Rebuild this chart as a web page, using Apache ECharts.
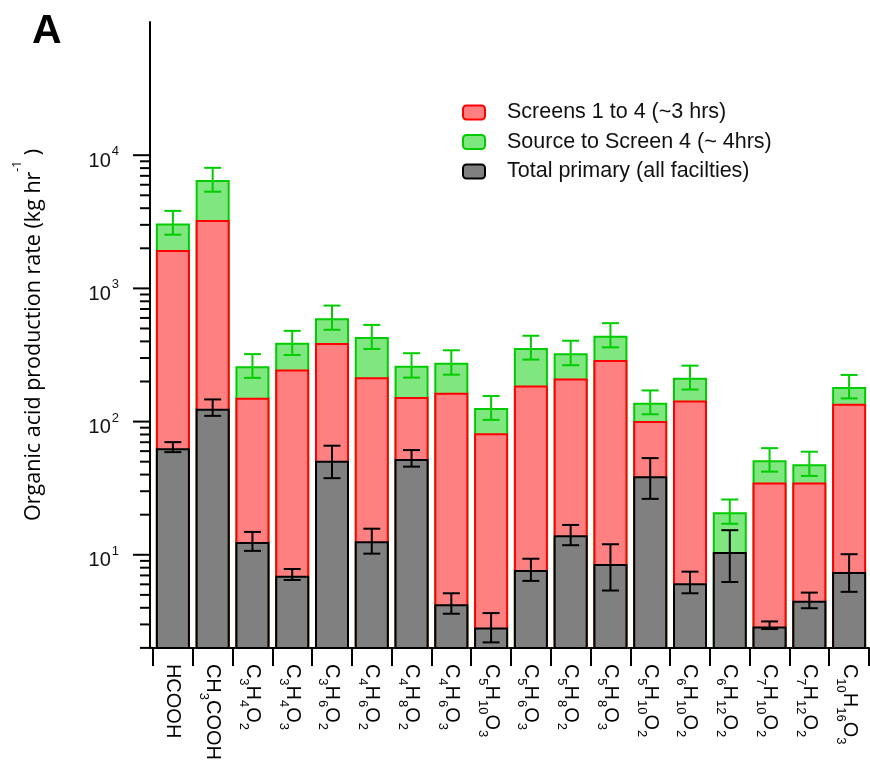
<!DOCTYPE html>
<html><head><meta charset="utf-8">
<script src="https://cdn.jsdelivr.net/npm/echarts@6/dist/echarts.min.js"></script>
<style>html,body{margin:0;padding:0;background:#fff}#c{width:870px;height:763px}</style>
</head><body><div id="c"></div>
<script>
// ---- data ----
const categories = ['HCOOH','CH3COOH','C3H4O2','C3H4O3','C3H6O2','C4H6O2','C4H8O2','C4H6O3','C5H10O3','C5H6O3','C5H8O2','C5H8O3','C5H10O2','C6H10O2','C6H12O2','C7H10O2','C7H12O2','C10H16O3'];
const seriesNames = ['Screens 1 to 4 (~3 hrs)', 'Source to Screen 4 (~ 4hrs)', 'Total primary (all facilties)'];
const sourceTo4 = [3070, 6500, 260, 390, 597, 431, 263, 277, 126.5, 357, 326, 441, 138.6, 213, 20.9, 51.2, 47.8, 181.5];
const sourceTo4Low = [2530, 5320, 213, 316, 489, 351, 214, 225, 103, 292, 265, 361, 113.5, 174, 17.1, 42.1, 39.1, 149.3];
const sourceTo4High = [3820, 8040, 321, 480, 743, 532, 326, 343, 155.5, 441, 404.5, 548, 171.3, 263, 26.0, 63.2, 59.4, 224];
const screens1to4 = [1945, 3258, 151, 245.6, 389, 215.5, 153, 164.6, 81.8, 186.6, 210.5, 290, 101.2, 144.2, null, 34.9, 34.9, 136.3];
const primary = [63.2, 125, 12.5, 6.97, 50.9, 12.65, 52.3, 4.26, 2.85, 7.69, 14.0, 8.52, 38.9, 6.11, 10.5, 2.90, 4.51, 7.43];
const primaryLow = [59.0, 110.4, 10.7, 6.47, 37.6, 10.2, 45.9, 3.61, 2.2, 6.37, 11.8, 5.39, 26.3, 5.14, 6.25, 2.77, 3.97, 5.27];
const primaryHigh = [70.1, 146.7, 14.85, 7.82, 65.9, 15.7, 61.1, 5.14, 3.65, 9.34, 16.75, 12.0, 53.2, 7.47, 15.3, 3.16, 5.2, 10.1];
const majorTicks = [10, 100, 1000, 10000];
const minorTicks = [2,3,4,5,6,7,8,9, 20,30,40,50,60,70,80,90, 200,300,400,500,600,700,800,900, 2000,3000,4000,5000,6000,7000,8000,9000];
const yMin = 2, yMax = 100000;

// ---- chart ----
const chart = echarts.init(document.getElementById('c'), null, {renderer: 'canvas'});
const AX_OFF = 3;
function errData(lo, hi) { return lo.map((l, i) => [i, l, hi[i]]); }
function errRender(color) {
  return function (params, api) {
    const i = api.value(0);
    const lo = api.coord([i, api.value(1)]);
    const hi = api.coord([i, api.value(2)]);
    const w = 8.5;
    const st = {stroke: color, lineWidth: 2, fill: null};
    return {type: 'group', children: [
      {type: 'line', shape: {x1: lo[0], y1: lo[1], x2: hi[0], y2: hi[1]}, style: st},
      {type: 'line', shape: {x1: lo[0]-w, y1: lo[1], x2: lo[0]+w, y2: lo[1]}, style: st},
      {type: 'line', shape: {x1: hi[0]-w, y1: hi[1], x2: hi[0]+w, y2: hi[1]}, style: st}
    ]};
  };
}
const tickData = majorTicks.map(v => [0, v, 17]).concat(minorTicks.map(v => [0, v, 10]));

const option = {
  animation: false,
  backgroundColor: '#fff',
  title: {text: 'A', left: 27, top: 6, textStyle: {fontSize: 41, fontWeight: 'bold', fontFamily: 'Liberation Sans', color: '#000'}},
  legend: {
    data: seriesNames, orient: 'vertical', left: 462, top: 101.5, padding: 0,
    itemWidth: 22, itemHeight: 14, itemGap: 7.5, icon: 'roundRect',
    itemStyle: {borderWidth: 2},
    textStyle: {fontSize: 21.5, fontFamily: 'Liberation Sans', color: '#111', padding: [0, 0, 0, 17], lineHeight: 18}
  },
  grid: {left: 153, right: 1, top: 22, bottom: 110},
  xAxis: {
    type: 'category', data: categories,
    axisLine: {lineStyle: {color: '#000', width: 2}},
    axisTick: {show: true, length: 18, lineStyle: {color: '#000', width: 2}},
    axisLabel: {
      interval: 0, rotate: -90, margin: 16, fontSize: 20, fontFamily: 'Liberation Sans', color: '#000', lineHeight: 31,
      formatter: s => s.replace(/(\d+)/g, '{s|$1}'),
      rich: {s: {fontSize: 13, lineHeight: 13, verticalAlign: 'bottom', fontFamily: 'Liberation Sans', color: '#000'}}
    }
  },
  yAxis: {
    type: 'log', logBase: 10, min: yMin, max: yMax, offset: AX_OFF,
    name: 'Organic acid production rate (kg hr{p|-1} )', nameLocation: 'middle', nameRotate: 90, nameGap: 94,
    nameTextStyle: {fontSize: 21.5, fontFamily: 'Open Sans', color: '#000', lineHeight: 44,
      rich: {p: {fontSize: 12, lineHeight: 12, verticalAlign: 'top', fontFamily: 'Open Sans', color: '#000'}}},
    axisLine: {show: true, lineStyle: {color: '#000', width: 2}},
    axisTick: {show: false},
    splitLine: {show: false},
    axisLabel: {
      margin: 31, showMinLabel: false, showMaxLabel: false,
      formatter: v => {
        const e = Math.round(Math.log10(v));
        if (Math.abs(Math.pow(10, e) - v) > 1e-6 * v || e < 1 || e > 4) return '';
        return '{m|10}{p|' + e + '}';
      },
      rich: {
        m: {fontSize: 20, lineHeight: 20, padding: [12, 0, 0, 0], fontFamily: 'Liberation Sans', color: '#111'},
        p: {fontSize: 13, lineHeight: 6, verticalAlign: 'top', padding: [0, 0, 26, 1], fontFamily: 'Liberation Sans', color: '#111'}
      }
    }
  },
  series: [
    {name: seriesNames[1], type: 'bar', z: 2, data: sourceTo4, barWidth: 34, barGap: '-100%', clip: true,
      itemStyle: {color: '#80e680', borderColor: '#00cc00', borderWidth: 2}},
    {type: 'custom', z: 3, data: errData(sourceTo4Low, sourceTo4High), renderItem: errRender('#00cc00'), encode: {x: 0, y: [1, 2]}, clip: false, silent: true},
    {name: seriesNames[0], type: 'bar', z: 4, data: screens1to4, barWidth: 34, barGap: '-100%', clip: true,
      itemStyle: {color: '#ff8080', borderColor: '#ff0000', borderWidth: 2}},
    {name: seriesNames[2], type: 'bar', z: 5, data: primary, barWidth: 34, barGap: '-100%', clip: true,
      itemStyle: {color: '#808080', borderColor: '#000', borderWidth: 2}},
    {type: 'custom', z: 6, data: errData(primaryLow, primaryHigh), renderItem: errRender('#000'), encode: {x: 0, y: [1, 2]}, clip: false, silent: true},
    {type: 'custom', z: 6, data: tickData, clip: false, silent: true, encode: {x: 0, y: 1},
      renderItem: function (params, api) {
        const v = api.value(1), len = api.value(2);
        const p = api.coord([0, v]);
        const ax = params.coordSys.x - AX_OFF;
        const x2 = (v === yMin) ? params.coordSys.x : ax;
        return {type: 'line', shape: {x1: ax - len, y1: p[1], x2: x2, y2: p[1]}, style: {stroke: '#000', lineWidth: 2}};
      }}
  ]
};
chart.setOption(option);
</script></body></html>
